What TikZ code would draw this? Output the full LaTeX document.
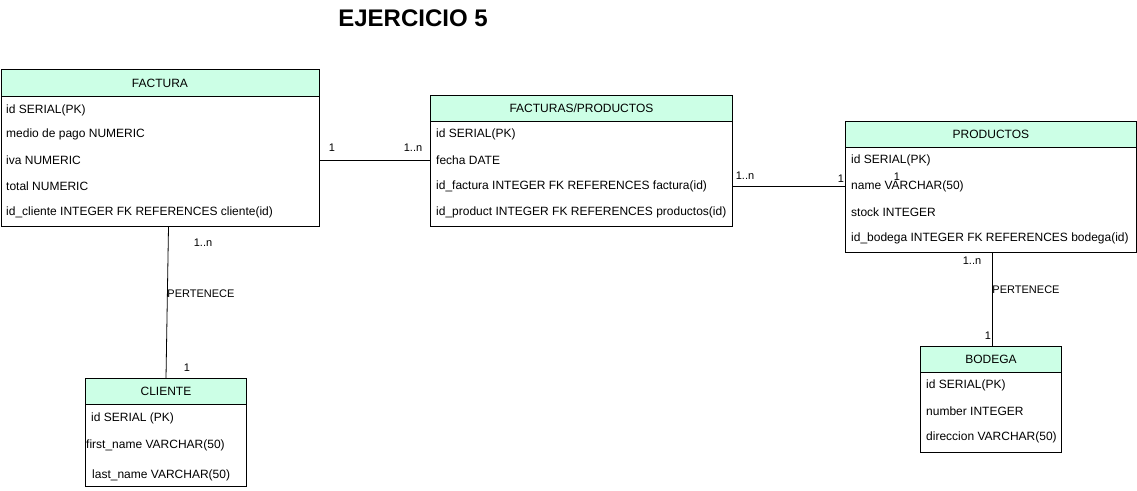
\documentclass[tikz,border=0pt]{standalone}
\usepackage{fontspec}
\setmainfont{Liberation Sans}
\definecolor{hdrfill}{RGB}{204,255,230}
\definecolor{edge}{RGB}{0,0,0}
\begin{document}
\begin{tikzpicture}[x=1pt,y=-1pt,
  tbl/.style={draw=edge, line width=0.9pt, inner sep=0pt, anchor=north west},
  hdr/.style={draw=edge, line width=0.9pt, fill=hdrfill, inner sep=0pt, anchor=north west, font=\fontsize{12}{14}\selectfont},
  row/.style={anchor=west, inner sep=0pt, font=\fontsize{12}{14}\selectfont},
  lbl/.style={inner sep=0pt, font=\fontsize{11}{13}\selectfont},
  conn/.style={draw=black, line width=0.8pt}]
\useasboundingbox (0,0) rectangle (1137,490);
\node[font=\fontsize{24}{28}\selectfont\bfseries, inner sep=0pt] (title) at (413,18) {EJERCICIO 5};

% FACTURA
\node[tbl, minimum width=318pt, minimum height=157pt] (factura) at (0.5,69) {};
\node[hdr, minimum width=318pt, minimum height=27pt] (facturah) at (factura.north west) {FACTURA};
\node[row] (f1) at (6,110) {id SERIAL(PK)};
\node[row] (f2) at (6,134) {medio de pago NUMERIC};
\node[row] (f3) at (6,160) {iva NUMERIC};
\node[row] (f4) at (6,186) {total NUMERIC};
\node[row] (f5) at (6,212) {id\_cliente INTEGER FK REFERENCES cliente(id)};

% FACTURAS/PRODUCTOS
\node[tbl, minimum width=302pt, minimum height=131pt] (fp) at (430,95) {};
\node[hdr, minimum width=302pt, minimum height=26pt] (fph) at (fp.north west) {FACTURAS/PRODUCTOS};
\node[row] (fp1) at (436,134) {id SERIAL(PK)};
\node[row] (fp2) at (436,160) {fecha DATE};
\node[row] (fp3) at (436,186) {id\_factura INTEGER FK REFERENCES factura(id)};
\node[row] (fp4) at (436,212) {id\_product INTEGER FK REFERENCES productos(id)};

% PRODUCTOS
\node[tbl, minimum width=291pt, minimum height=131pt] (prod) at (845,121) {};
\node[hdr, minimum width=291pt, minimum height=26pt] (prodh) at (prod.north west) {PRODUCTOS};
\node[row] (p1) at (851,160) {id SERIAL(PK)};
\node[row] (p2) at (851,186) {name VARCHAR(50)};
\node[row] (p3) at (851,212) {stock INTEGER};
\node[row] (p4) at (851,238) {id\_bodega INTEGER FK REFERENCES bodega(id)};

% CLIENTE
\node[tbl, minimum width=161pt, minimum height=108pt] (cliente) at (85,378) {};
\node[hdr, minimum width=161pt, minimum height=26pt] (clienteh) at (cliente.north west) {CLIENTE};
\node[row] (c1) at (91,418) {id SERIAL (PK)};
\node[row] (c2) at (86,445) {first\_name VARCHAR(50)};
\node[row] (c3) at (92,475) {last\_name VARCHAR(50)};

% BODEGA
\node[tbl, minimum width=141pt, minimum height=106pt] (bodega) at (920,346) {};
\node[hdr, minimum width=141pt, minimum height=26pt] (bodegah) at (bodega.north west) {BODEGA};
\node[row] (b1) at (926,385) {id SERIAL(PK)};
\node[row] (b2) at (926,411) {number INTEGER};
\node[row] (b3) at (926,437) {direccion VARCHAR(50)};

% connectors
\draw[conn] (factura.east |- fp2) -- (fp.west |- fp2);
\draw[conn] (fp.east |- fp3) -- (prod.west |- fp3);
\draw[conn] ([xshift=168pt]factura.south west) -- ([xshift=81pt]cliente.north west);
\draw[conn] ([xshift=147pt]prod.south west) -- ([xshift=72pt]bodega.north west);

% labels
\node[lbl] (l1) at (332,148) {1};
\node[lbl] (l2) at (413,148) {1..n};
\node[lbl] (l3) at (745,176) {1..n};
\node[lbl] (l4) at (841,179) {1};
\node[lbl] (l5) at (897,177) {1};
\node[lbl] (l6) at (203,243) {1..n};
\node[lbl] (l7) at (201,294) {PERTENECE};
\node[lbl] (l8) at (187,368) {1};
\node[lbl] (l9) at (972,261) {1..n};
\node[lbl] (l10) at (1026,290) {PERTENECE};
\node[lbl] (l11) at (988,336) {1};
\end{tikzpicture}
\end{document}
